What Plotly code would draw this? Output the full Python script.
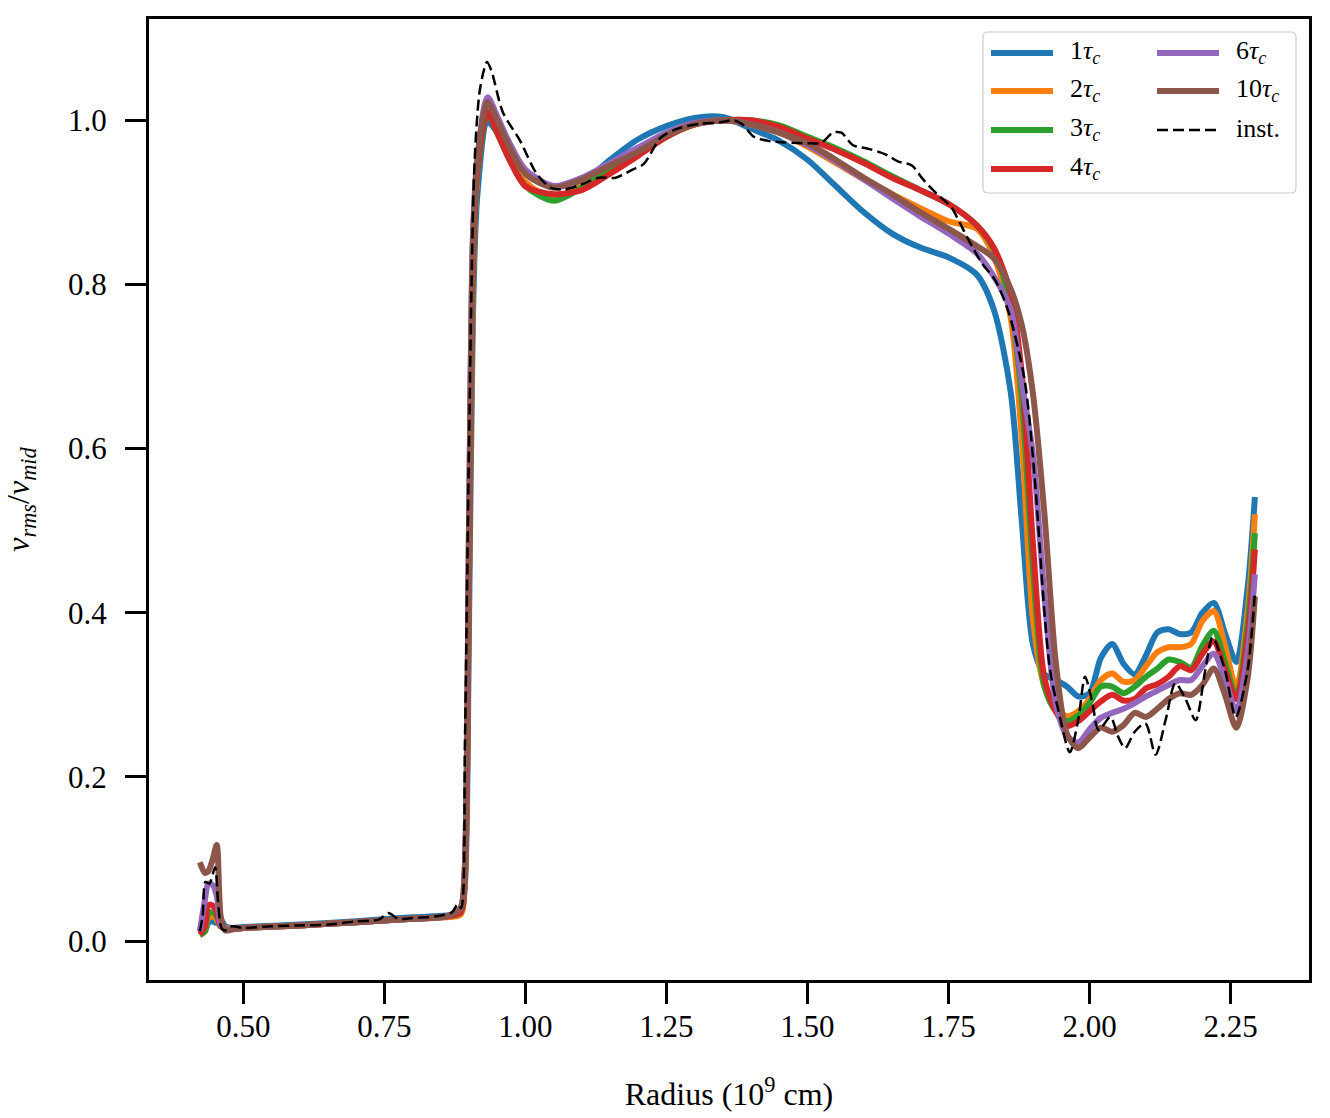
import plotly.graph_objects as go

# ---------------- data ----------------
radius = [0.423, 0.432, 0.438, 0.446, 0.453, 0.46, 0.468, 0.48, 0.5, 0.6, 0.7, 0.8, 0.86,
          0.885, 0.892, 0.9, 0.907, 0.915, 0.933, 0.95, 0.97, 1.0, 1.05, 1.1, 1.15, 1.2, 1.25,
          1.3, 1.35, 1.4, 1.45, 1.5, 1.55, 1.6, 1.65, 1.7, 1.75, 1.8, 1.83, 1.86, 1.88, 1.9,
          1.92, 1.94, 1.96, 1.98, 2.0, 2.02, 2.04, 2.06, 2.08, 2.1, 2.12, 2.14, 2.16, 2.18,
          2.2, 2.22, 2.24, 2.26, 2.28, 2.293]

v_1tc = [0.009, 0.012, 0.022, 0.024, 0.022, 0.026, 0.018, 0.016, 0.017, 0.020, 0.024, 0.029, 0.031,
         0.035, 0.06, 0.38, 0.76, 0.91, 0.998, 0.985, 0.955, 0.922, 0.905, 0.923, 0.952, 0.977, 0.993,
         1.003, 1.004, 0.99, 0.975, 0.952, 0.92, 0.888, 0.862, 0.845, 0.833, 0.812, 0.77, 0.67, 0.51, 0.36,
         0.325, 0.318, 0.31, 0.298, 0.302, 0.345, 0.362, 0.338, 0.325, 0.348, 0.376, 0.38, 0.374, 0.376,
         0.4, 0.412, 0.375, 0.34, 0.43, 0.541]
v_2tc = [0.007, 0.012, 0.028, 0.030, 0.026, 0.018, 0.016, 0.015, 0.016, 0.019, 0.023, 0.027, 0.029,
         0.032, 0.065, 0.43, 0.80, 0.935, 1.012, 0.99, 0.96, 0.925, 0.905, 0.92, 0.942, 0.962, 0.982,
         0.995, 1.0, 0.995, 0.985, 0.968, 0.948, 0.928, 0.91, 0.893, 0.877, 0.868, 0.835, 0.76, 0.61, 0.39,
         0.31, 0.285, 0.274, 0.28, 0.295, 0.318, 0.326, 0.316, 0.318, 0.335, 0.352, 0.358, 0.358, 0.362,
         0.39, 0.402, 0.36, 0.308, 0.40, 0.52]
v_3tc = [0.007, 0.012, 0.034, 0.035, 0.030, 0.018, 0.015, 0.015, 0.016, 0.019, 0.023, 0.027, 0.030,
         0.035, 0.07, 0.44, 0.81, 0.935, 1.008, 0.985, 0.955, 0.92, 0.902, 0.918, 0.94, 0.96, 0.98,
         0.995, 1.0, 1.0, 0.994, 0.98, 0.966, 0.95, 0.932, 0.915, 0.898, 0.872, 0.843, 0.775, 0.66, 0.45,
         0.31, 0.28, 0.268, 0.275, 0.29, 0.31, 0.31, 0.302, 0.31, 0.322, 0.332, 0.343, 0.34, 0.333,
         0.36, 0.378, 0.34, 0.298, 0.385, 0.497]
v_4tc = [0.008, 0.018, 0.044, 0.043, 0.035, 0.018, 0.015, 0.015, 0.016, 0.019, 0.023, 0.027, 0.030,
         0.035, 0.07, 0.45, 0.82, 0.94, 1.01, 0.985, 0.955, 0.92, 0.91, 0.915, 0.935, 0.957, 0.98,
         0.995, 1.0, 1.0, 0.992, 0.978, 0.964, 0.948, 0.93, 0.915, 0.898, 0.872, 0.845, 0.79, 0.69, 0.48,
         0.32, 0.28, 0.262, 0.268, 0.28, 0.292, 0.30, 0.293, 0.295, 0.308, 0.313, 0.322, 0.335, 0.33,
         0.35, 0.365, 0.33, 0.295, 0.37, 0.477]
v_6tc = [0.012, 0.05, 0.07, 0.068, 0.055, 0.02, 0.015, 0.015, 0.016, 0.019, 0.023, 0.027, 0.030,
         0.04, 0.08, 0.50, 0.86, 0.955, 1.028, 1.005, 0.975, 0.94, 0.92, 0.93, 0.948, 0.967, 0.985,
         0.997, 1.0, 0.995, 0.985, 0.97, 0.95, 0.928, 0.905, 0.883, 0.862, 0.838, 0.81, 0.77, 0.68, 0.59,
         0.42, 0.29, 0.25, 0.242, 0.258, 0.272, 0.278, 0.283, 0.29, 0.298, 0.305, 0.312, 0.318, 0.318,
         0.335, 0.35, 0.32, 0.28, 0.35, 0.447]
v_10tc = [0.096, 0.083, 0.085, 0.10, 0.117, 0.03, 0.013, 0.014, 0.016, 0.019, 0.023, 0.027, 0.030,
          0.04, 0.08, 0.50, 0.85, 0.95, 1.022, 1.0, 0.97, 0.935, 0.918, 0.928, 0.945, 0.962, 0.982,
          0.995, 1.0, 0.995, 0.985, 0.972, 0.952, 0.93, 0.91, 0.888, 0.868, 0.847, 0.832, 0.795, 0.75, 0.665,
          0.52, 0.34, 0.252, 0.235, 0.248, 0.26, 0.255, 0.263, 0.278, 0.273, 0.283, 0.295, 0.302, 0.30,
          0.312, 0.332, 0.30, 0.26, 0.32, 0.42]

radius_inst = [0.423, 0.428, 0.433, 0.44, 0.45, 0.455, 0.462, 0.47, 0.48, 0.5, 0.55, 0.6, 0.65, 0.7,
               0.74, 0.757, 0.775, 0.8, 0.84, 0.87, 0.88, 0.886, 0.893, 0.9, 0.91, 0.92, 0.932, 0.94,
               0.96, 0.99, 1.02, 1.045, 1.07, 1.096, 1.13, 1.16, 1.19, 1.21, 1.24, 1.27, 1.31, 1.34,
               1.37, 1.385, 1.405, 1.43, 1.46, 1.5, 1.525, 1.545, 1.56, 1.58, 1.61, 1.64, 1.66, 1.685,
               1.705, 1.73, 1.755, 1.77, 1.785, 1.81, 1.833, 1.857, 1.885, 1.903, 1.92, 1.93, 1.945,
               1.965, 1.98, 1.992, 2.005, 2.016, 2.037, 2.05, 2.063, 2.08, 2.099, 2.117, 2.135, 2.152,
               2.17, 2.188, 2.205, 2.218, 2.24, 2.259, 2.28, 2.293]
v_inst = [0.012, 0.03, 0.072, 0.07, 0.09, 0.05, 0.015, 0.013, 0.018, 0.016, 0.018, 0.019, 0.020, 0.024,
          0.026, 0.034, 0.027, 0.028, 0.030, 0.035, 0.045, 0.04, 0.25, 0.6, 0.95, 1.04, 1.071, 1.06,
          1.01, 0.976, 0.935, 0.918, 0.916, 0.921, 0.93, 0.93, 0.94, 0.947, 0.979, 0.99, 0.996, 0.997,
          1.0, 0.995, 0.98, 0.975, 0.973, 0.972, 0.973, 0.985, 0.985, 0.97, 0.965, 0.958, 0.95, 0.945,
          0.928, 0.91, 0.894, 0.875, 0.855, 0.825, 0.805, 0.765, 0.683, 0.562, 0.40, 0.33, 0.28,
          0.23, 0.27, 0.322, 0.29, 0.257, 0.273, 0.25, 0.235, 0.255, 0.265, 0.227, 0.27, 0.314,
          0.295, 0.269, 0.33, 0.37, 0.33, 0.273, 0.33, 0.424]

series_names = ["1τc", "2τc", "3τc", "4τc", "6τc", "10τc"]
series_labels = ["1<i>τ</i><sub><i>c</i></sub>", "2<i>τ</i><sub><i>c</i></sub>",
                 "3<i>τ</i><sub><i>c</i></sub>", "4<i>τ</i><sub><i>c</i></sub>",
                 "6<i>τ</i><sub><i>c</i></sub>", "10<i>τ</i><sub><i>c</i></sub>"]
series_values = [v_1tc, v_2tc, v_3tc, v_4tc, v_6tc, v_10tc]
inst_label = "inst."

x_ticks = [0.50, 0.75, 1.00, 1.25, 1.50, 1.75, 2.00, 2.25]
y_ticks = [0.0, 0.2, 0.4, 0.6, 0.8, 1.0]

colors = ["#1f77b4", "#ff7f0e", "#2ca02c", "#d62728", "#9467bd", "#8c564b"]

# ---------------- figure ----------------
FONT = "Liberation Serif, 'Times New Roman', DejaVu Serif, serif"
W, H = 1330, 1118
ML, MR, MT, MB = 149, 21, 19, 138
PW, PH = W - ML - MR, H - MT - MB
LW = 6

fig = go.Figure()
for name, vals, col in zip(series_names, series_values, colors):
    fig.add_trace(go.Scatter(x=radius, y=vals, mode="lines", name=name, showlegend=False,
                             line=dict(color=col, width=LW, shape="spline", smoothing=0.8)))
fig.add_trace(go.Scatter(x=radius_inst, y=v_inst, mode="lines", name="inst.", showlegend=False,
                         line=dict(color="black", width=2.5, dash="11px,5px",
                                   shape="spline", smoothing=0.8)))

axis_common = dict(showgrid=False, zeroline=False, showline=True, linecolor="black",
                   linewidth=3, mirror=True, ticks="outside", ticklen=21, tickwidth=3,
                   tickcolor="black", tickfont=dict(family=FONT, size=31, color="black"))

fig.update_xaxes(range=[0.3329, 2.3889], tickvals=x_ticks,
                 ticktext=[f"{v:.2f}" for v in x_ticks], ticklabelstandoff=-4,
                 title=dict(text="Radius (10<sup>9</sup> cm)",
                            font=dict(family=FONT, size=32, color="black"), standoff=40),
                 **axis_common)
fig.update_yaxes(range=[-0.0475, 1.1235], tickvals=y_ticks,
                 ticktext=[f"{v:.1f}" for v in y_ticks], ticklabelstandoff=12,
                 title=dict(text="<i>v</i><sub><i>rms</i></sub>/<i>v</i><sub><i>mid</i></sub>",
                            font=dict(family=FONT, size=32, color="black"), standoff=30),
                 **axis_common)

# ---------------- legend (two columns, drawn as in the reference) ----------------
def px2x(px):
    return (px - ML) / PW

def py2y(py):
    return (H - MB - py) / PH

bx0, bx1, by0, by1 = px2x(983), px2x(1296), py2y(193), py2y(32)
rx, ry = 5 / PW, 5 / PH
box = (f"M{bx0+rx},{by1} L{bx1-rx},{by1} Q{bx1},{by1} {bx1},{by1-ry} "
       f"L{bx1},{by0+ry} Q{bx1},{by0} {bx1-rx},{by0} L{bx0+rx},{by0} "
       f"Q{bx0},{by0} {bx0},{by0+ry} L{bx0},{by1-ry} Q{bx0},{by1} {bx0+rx},{by1} Z")
shapes = [dict(type="path", path=box, xref="paper", yref="paper",
               fillcolor="rgba(255,255,255,0.85)", line=dict(color="#cccccc", width=1.2),
               layer="above")]
annotations = []
rows_py = [53, 91, 130, 169]
entries = []
for i in range(4):
    entries.append((0, i, series_labels[i], dict(color=colors[i], width=LW)))
entries.append((1, 0, series_labels[4], dict(color=colors[4], width=LW)))
entries.append((1, 1, series_labels[5], dict(color=colors[5], width=LW)))
entries.append((1, 2, inst_label, dict(color="black", width=2.5, dash="11px,5px")))
col_line = [(991, 1053), (1157, 1219)]
col_text = [1068, 1234]
for c, r, lab, ln in entries:
    yy = py2y(rows_py[r])
    shapes.append(dict(type="line", xref="paper", yref="paper",
                       x0=px2x(col_line[c][0]), x1=px2x(col_line[c][1]), y0=yy, y1=yy,
                       line=ln, layer="above"))
    annotations.append(dict(x=px2x(col_text[c]), y=yy, xref="paper", yref="paper",
                            text=lab, showarrow=False, xanchor="left", yanchor="middle",
                            yshift=1, font=dict(family=FONT, size=26, color="black")))

fig.update_layout(width=W, height=H, margin=dict(l=ML, r=MR, t=MT, b=MB, autoexpand=False),
                  plot_bgcolor="white", paper_bgcolor="white",
                  font=dict(family=FONT, color="black"),
                  shapes=shapes, annotations=annotations, showlegend=False)

fig.write_html("out.html")
